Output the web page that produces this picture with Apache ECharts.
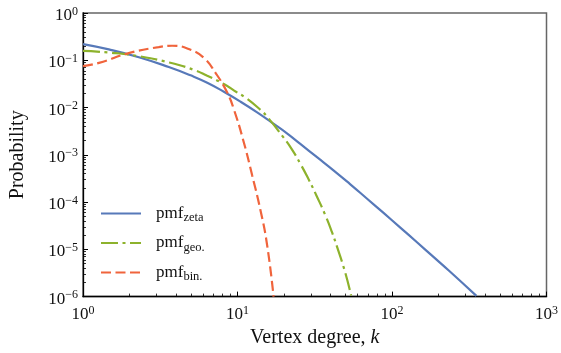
<!DOCTYPE html>
<html>
<head>
<meta charset="utf-8">
<script src="https://cdn.jsdelivr.net/npm/echarts@6/dist/echarts.min.js"></script>
<style>
  html, body { margin: 0; padding: 0; background: #fff; }
  #chart { width: 561px; height: 353px; }
</style>
</head>
<body>
<div id="chart"></div>
<script>
// Degree distributions: probability mass vs vertex degree k (log-log)
const seriesNames = ['zeta', 'geo.', 'bin.'];

const zetaK = [1, 1.47, 2.3, 3.59, 4.97, 6.37, 8.16, 10.45, 13.4, 16.7, 20.9, 25.5, 32.7, 41.8, 53.5, 68.7, 87.8, 112.7, 144.5, 184.7, 236, 352];
const zetaP = [0.22, 0.17, 0.116, 0.072, 0.048, 0.0335, 0.0215, 0.0133, 0.0079, 0.0048, 0.00285, 0.0017, 0.00089, 0.00047, 2.4e-4, 1.19e-4, 5.96e-5, 2.92e-5, 1.43e-5, 7.0e-6, 3.43e-6, 1.035e-6];

const geoK = [1, 1.5, 2.3, 3.6, 5.2, 6.37, 8.16, 9.9, 11.26, 14.1, 15.5, 19.9, 22.5, 25.5, 28.9, 32.7, 37, 40.9, 44, 49.7, 54.4];
const geoP = [0.158, 0.145, 0.122, 0.09, 0.063, 0.047, 0.0315, 0.021, 0.0162, 0.0089, 0.0065, 0.0023, 0.0013, 0.00065, 3.0e-4, 1.3e-4, 5.3e-5, 2.3e-5, 1.15e-5, 3.3e-6, 1.05e-6];

const binK = [1, 1.27, 2, 3.09, 3.77, 4.97, 6.06, 7.21, 8.58, 9.47, 10.98, 12.44, 14.07, 15.55, 17.12];
const binP = [0.075, 0.088, 0.143, 0.19, 0.203, 0.167, 0.112, 0.054, 0.0207, 0.0092, 0.00185, 3.68e-4, 6.8e-5, 1.23e-5, 1.0e-6];

const xMin = 1, xMax = 1000;
const yMin = 1e-6, yMax = 1;

const colors = ['#5779b9', '#8db22c', '#f0643c'];
const serif = "'Liberation Serif', 'DejaVu Serif', serif";

function pairs(ks, ps) {
  return ks.map((k, i) => [k, ps[i]]);
}

function powLabel(v) {
  const e = Math.round(Math.log10(v));
  const s = e < 0 ? '\u2212' + (-e) : String(e);
  return '{b|10}{e|' + s + '}';
}

const tickRich = {
  b: { fontFamily: serif, fontSize: 17, lineHeight: 20, color: '#111' },
  e: { fontFamily: serif, fontSize: 12, lineHeight: 10, verticalAlign: 'top', color: '#111' }
};

const chart = echarts.init(document.getElementById('chart'), null, { renderer: 'canvas' });

chart.setOption({
  animation: false,
  backgroundColor: '#fff',
  grid: {
    left: 82, right: 14, top: 13, bottom: 54,
    show: true, borderColor: '#666', borderWidth: 1.5, backgroundColor: 'transparent'
  },
  legend: {
    orient: 'vertical',
    left: 95, top: 200, padding: 5,
    itemWidth: 40, itemHeight: 14, itemGap: 10,
    data: seriesNames,
    itemStyle: { opacity: 0 },
    formatter: name => '{m|pmf}{s|' + name + '}',
    textStyle: {
      rich: {
        m: { fontFamily: serif, fontSize: 17, lineHeight: 22, color: '#111', padding: [0, 0, 0, 10] },
        s: { fontFamily: serif, fontSize: 12.5, lineHeight: 15, verticalAlign: 'bottom', color: '#111' }
      }
    }
  },
  xAxis: {
    type: 'log', logBase: 10, min: xMin, max: xMax, splitNumber: 3,
    name: 'Vertex degree, {i|k}', nameLocation: 'middle', nameGap: 29,
    nameTextStyle: {
      fontFamily: serif, fontSize: 20, color: '#111',
      rich: { i: { fontFamily: serif, fontSize: 20, fontStyle: 'italic', color: '#111' } }
    },
    axisLine: { lineStyle: { color: '#000', width: 1.3 } },
    axisTick: { inside: true, length: 5, lineStyle: { color: '#000', width: 1 } },
    minorTick: { show: true, splitNumber: 9, length: 3, lineStyle: { color: '#000', width: 0.8 } },
    splitLine: { show: false },
    axisLabel: { margin: 8, formatter: powLabel, rich: tickRich, showMinLabel: true, showMaxLabel: true }
  },
  yAxis: {
    type: 'log', logBase: 10, min: yMin, max: yMax, splitNumber: 6,
    name: 'Probability', nameLocation: 'middle', nameGap: 55,
    nameTextStyle: { fontFamily: serif, fontSize: 20, color: '#111' },
    axisLine: { lineStyle: { color: '#000', width: 1.3 } },
    axisTick: { inside: true, length: 5, lineStyle: { color: '#000', width: 1 } },
    minorTick: { show: true, splitNumber: 9, length: 3, lineStyle: { color: '#000', width: 0.8 } },
    splitLine: { show: false },
    axisLabel: { margin: 5, padding: [5, 0, 0, 0], formatter: powLabel, rich: tickRich, showMinLabel: true, showMaxLabel: true }
  },
  series: [
    {
      name: seriesNames[0], type: 'line', data: pairs(zetaK, zetaP),
      showSymbol: false, symbol: 'none', smooth: 0.5, clip: true,
      lineStyle: { color: colors[0], width: 2.2, type: 'solid' },
      itemStyle: { color: colors[0] }
    },
    {
      name: seriesNames[1], type: 'line', data: pairs(geoK, geoP),
      showSymbol: false, symbol: 'none', smooth: 0.5, clip: true,
      lineStyle: { color: colors[1], width: 2.2, type: [17, 4.5, 3, 4.5] },
      itemStyle: { color: colors[1] }
    },
    {
      name: seriesNames[2], type: 'line', data: pairs(binK, binP),
      showSymbol: false, symbol: 'none', smooth: 0.5, clip: true,
      lineStyle: { color: colors[2], width: 2.2, type: [10, 4.5] },
      itemStyle: { color: colors[2] }
    }
  ]
});
</script>
</body>
</html>
